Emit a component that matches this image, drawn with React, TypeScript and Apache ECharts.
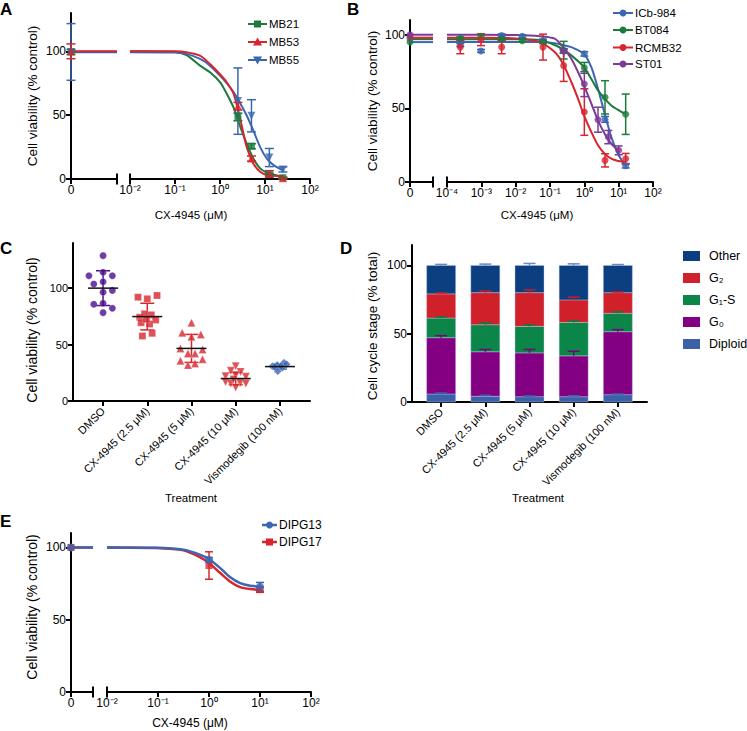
import React, { useEffect, useRef } from 'react';
import * as echarts from 'echarts';

const FONT = '"Liberation Sans", Arial, Helvetica, sans-serif';

// ---------- Panel A ----------
const A_CONC = [2.5, 5, 12.5, 25];
const A_CURVE_X = [0.01, 0.1, 0.18, 0.36, 0.6, 1, 1.41, 2, 2.75, 3.9, 5.5, 7.8, 11, 15.5, 25.7];
const A_MB21_CURVE = [100, 99.5, 97, 88.8, 83.6, 75.8, 66.8, 56, 42, 27.8, 16, 8.3, 5, 3.4, 1.8];
const A_MB53_CURVE = [100, 100, 99.3, 96.6, 90, 82, 75.8, 66.8, 48.6, 25.2, 12.2, 5.7, 3.1, 2.6, 2];
const A_MB55_CURVE = [99.3, 99, 98, 94, 88.8, 81, 75, 68, 60, 49.9, 38, 25, 16, 10.9, 6.5];
const A_MB21 = [48.6, 25.7, 3.5, 1.0];
const A_MB21_ERR = [3, 2, 1, 0.5];
const A_MB53 = [57, 16, 4, 0.5];
const A_MB53_ERR = [3, 2, 2.5, 0.5];
const A_MB55 = [61, 49.5, 16.8, 7.5];
const A_MB55_ERR = [26, 12.6, 7.1, 2];
const A_ZERO = [99.5, 100, 99.5];
const A_ZERO_ERR = [2, 5.8, 22.2];

// ---------- Panel B ----------
const B_CONC = [0.000244, 0.000977, 0.00391, 0.0156, 0.0625, 0.25, 1, 4, 16];
const B_ICB = [93, 89, 99.5, 99, 96, 89, 87, 42.5, 11];
const B_ICB_ERR = [1, 1, 1, 1, 1, 1.5, 1.5, 2, 1.5];
const B_BT = [97.5, 99, 97, 96, 95, 89.5, 77.5, 57.5, 46];
const B_BT_ERR = [1, 1, 1, 1, 1, 6, 3.7, 11.3, 13.7];
const B_RC_CONC = [0.000244, 0.000977, 0.00391, 0.0625, 0.25, 1, 4, 16];
const B_RC = [91.6, 96.6, 91.6, 91.6, 79, 47.5, 14.7, 15.8];
const B_RC_ERR = [4.5, 4, 4.5, 8.8, 10.7, 15.8, 4.5, 3.6];
const B_ST_CONC = [0.25, 1, 2.5, 5, 10];
const B_ST = [89, 66.5, 42.3, 30.5, 21.5];
const B_ST_ERR = [1.5, 8.5, 8.5, 4.5, 3];
const B_ZERO = [97.5, 95, 99, 100];
const B_FLAT = [95, 97, 98, 100];
const B_CURVE_X = [0.0001, 0.001, 0.01, 0.05, 0.137, 0.239, 0.418, 0.655, 0.977, 1.6, 2.5, 3.91, 6.11, 9.57, 15];
const B_ICB_CURVE = [95, 95, 95, 95, 94.3, 93, 91.6, 89.5, 87.1, 78, 63.3, 46.4, 30.5, 19.2, 11.3];
const B_BT_CURVE = [97, 97, 97, 96.5, 93, 90, 86, 82, 78, 70, 62.2, 56.6, 52, 49, 46.4];
const B_RC_CURVE = [98, 98, 97.5, 95, 88.2, 80.3, 67.9, 56.6, 45.2, 33.9, 24.9, 19.2, 15.8, 14.3, 13.6];
const B_ST_CURVE_X = [0.0001, 0.001, 0.01, 0.05, 0.137, 0.239, 0.418, 0.655, 0.977, 1.6, 2.5, 3.91, 6.11, 9.57];
const B_ST_CURVE = [100, 100, 99.8, 99, 97.3, 91.6, 83.7, 74.7, 65.6, 53.2, 41.9, 32.8, 26, 21.5];

// ---------- Panel C ----------
const C_CATS = ['DMSO', 'CX-4945 (2.5 μM)', 'CX-4945 (5 μM)', 'CX-4945 (10 μM)', 'Vismodegib (100 nM)'];
const C_DMSO = [128.8, 111, 111, 103.6, 105.6, 96.4, 98, 85.8, 86.6, 82.2, 78.3, 114];
const C_DMSO_JIT = [0, -0.32, 0.21, -0.21, 0, 0, 0.21, -0.21, 0, 0.21, 0, 0];
const C_CX25 = [92, 90.5, 93.5, 57.6, 60, 74.2, 77.2, 76.3, 71.8, 69.4, 68.2, 72.4];
const C_CX25_JIT = [-0.21, 0, 0.22, -0.11, 0.11, -0.17, -0.06, 0.09, 0.19, -0.14, 0.05, -0.02];
const C_CX5 = [69.4, 60.5, 59, 57, 46.6, 42, 42, 45.7, 35.6, 31.8, 33.2, 37];
const C_CX5_JIT = [0, -0.21, 0.21, 0, -0.25, -0.08, 0.08, 0.25, -0.25, -0.08, 0.08, 0.25];
const C_CX10 = [30.9, 26.7, 25.8, 22, 22.8, 21.4, 16.9, 15.4, 16, 15.4, 11.9, 19];
const C_CX10_JIT = [0, -0.11, 0.11, -0.23, 0, 0.23, -0.23, -0.11, 0.1, 0.23, 0, -0.05];
const C_VIS = [30.9, 31.8, 33.8, 32.6, 26.4, 29.4, 30.3, 30.9];
const C_VIS_JIT = [-0.17, -0.06, 0.09, 0.15, -0.05, 0.05, -0.12, 0.02];
const C_MEAN = [100, 74.8, 46.6, 19.9, 30.5];
const C_SD = [15.4, 11.8, 12.4, 5.5, 2.2];

// ---------- Panel D ----------
const D_DIPLOID = [5.9, 4.2, 3.9, 3.9, 5.4];
const D_G0 = [41.2, 32.6, 32.1, 29.9, 46.1];
const D_G1S = [14.4, 19.8, 19.4, 24.5, 13.5];
const D_G2 = [17.7, 23.5, 24.7, 16.5, 15.1];
const D_OTHER = [20.8, 19.9, 19.9, 25.2, 19.9];
const D_DIPLOID_ERR = [0.7, 0.7, 0.5, 0.7, 0.5];
const D_G0_ERR = [1.5, 1.7, 2.5, 3.4, 1.5];
const D_G1S_ERR = [0.8, 1.2, 1.2, 1.2, 1];
const D_G2_ERR = [0.8, 1.2, 2, 2, 0.5];
const D_OTHER_ERR = [0.8, 1, 1.5, 1.2, 0.7];

// ---------- Panel E ----------
const E_CONC = [1, 10];
const E_D13 = [91.5, 72.8];
const E_D13_ERR = [1.5, 3];
const E_D17 = [87.5, 70.8];
const E_D17_ERR = [9.5, 1.8];
const E_CURVE_X = [0.01, 0.093, 0.316, 0.66, 1, 1.66, 2.57, 4.07, 6.46, 10];
const E_D13_CURVE = [100, 99.8, 98.4, 95, 92, 85.7, 79.5, 75.3, 73.5, 73];
const E_D17_CURVE = [100, 99.6, 98, 93.3, 89.2, 82.3, 76.5, 72.6, 71.2, 70.7];

const Y_TICKS = [0, 50, 100];

const COL = {
  green: '#1d7a3c',
  red: '#d8242d',
  blue: '#3b67b2',
  purple: '#7b3a98',
  indigo: '#4b0c8c',
  dOther: '#0b3f80',
  dG2: '#d0202a',
  dG1: '#0b8648',
  dG0: '#820081',
  dDip: '#3b62a8',
};

const SUP: Record<string, string> = { '-': '⁻', '0': '⁰', '1': '¹', '2': '²', '3': '³', '4': '⁴', '5': '⁵' };
const pow10 = (v: number) => '10' + String(Math.round(Math.log10(v))).split('').map((c) => SUP[c] || c).join('');

const AXLINE = { show: true, onZero: false, lineStyle: { color: '#000', width: 2 } };
const TICK = { show: true, length: 5, lineStyle: { color: '#000', width: 2 } };
const lbl = (fs = 12) => ({ color: '#000', fontSize: fs, fontFamily: FONT });

function zeroX(grid: number) {
  return {
    type: 'value', gridIndex: grid, min: 0, max: 1,
    axisLine: AXLINE, axisTick: { ...TICK, customValues: [0] },
    axisLabel: { ...lbl(), customValues: [0], formatter: () => '0', margin: 5 },
    splitLine: { show: false },
  };
}
function logX(grid: number, min: number, split: number) {
  return {
    type: 'log', logBase: 10, gridIndex: grid, min, max: 100, splitNumber: split,
    axisLine: AXLINE, axisTick: TICK,
    axisLabel: { ...lbl(), formatter: pow10, margin: 5 },
    splitLine: { show: false }, minorTick: { show: false },
  };
}
function catX(grid: number, min: number, max: number, fs: number) {
  return {
    type: 'value', gridIndex: grid, min, max,
    axisLine: AXLINE, axisTick: { ...TICK, customValues: [0, 1, 2, 3, 4] },
    axisLabel: { ...lbl(fs), customValues: [0, 1, 2, 3, 4], rotate: 45, margin: 8, formatter: (v: number) => C_CATS[Math.round(v)] },
    splitLine: { show: false },
  };
}
function yAx(grid: number, max: number, show: boolean, fs = 12) {
  return {
    type: 'value', gridIndex: grid, min: 0, max, show,
    axisLine: AXLINE, axisTick: { ...TICK, customValues: Y_TICKS },
    axisLabel: { ...lbl(fs), customValues: Y_TICKS, margin: 5 },
    splitLine: { show: false },
  };
}

function errRender(color: string, cap: number, upOnly = false, lw = 1.5) {
  return (_p: any, api: any) => {
    const x = api.value(0), lo = api.value(1), hi = api.value(2);
    const a = api.coord([x, lo]);
    const b = api.coord([x, hi]);
    const st = { stroke: color, lineWidth: lw };
    const ch: any[] = [
      { type: 'line', shape: { x1: a[0], y1: a[1], x2: b[0], y2: b[1] }, style: st },
      { type: 'line', shape: { x1: b[0] - cap / 2, y1: b[1], x2: b[0] + cap / 2, y2: b[1] }, style: st },
    ];
    if (!upOnly) ch.push({ type: 'line', shape: { x1: a[0] - cap / 2, y1: a[1], x2: a[0] + cap / 2, y2: a[1] }, style: st });
    return { type: 'group', children: ch };
  };
}
function errSeries(ax: number, data: number[][], color: string, cap: number, upOnly = false, z = 3) {
  return {
    type: 'custom', xAxisIndex: ax, yAxisIndex: ax, data, encode: { x: 0, y: [1, 2] },
    renderItem: errRender(color, cap, upOnly), z, silent: true,
  };
}
function breakSeries(ax: number, xv: number) {
  return {
    type: 'custom', xAxisIndex: ax, yAxisIndex: ax, data: [[xv, 0]], encode: { x: 0, y: 1 }, z: 6, silent: true,
    renderItem: (_p: any, api: any) => {
      const p = api.coord([api.value(0), api.value(1)]);
      return { type: 'line', shape: { x1: p[0], y1: p[1] - 5.5, x2: p[0], y2: p[1] + 5.5 }, style: { stroke: '#000', lineWidth: 2 } };
    },
  };
}
function stackBarSeries(ax: number, data: number[][], color: string) {
  return {
    type: 'custom', xAxisIndex: ax, yAxisIndex: ax, data, encode: { x: 0, y: [1, 2] }, z: 2, silent: true,
    renderItem: (_p: any, api: any) => {
      const a = api.coord([api.value(0), api.value(1)]);
      const b = api.coord([api.value(0), api.value(2)]);
      return {
        type: 'rect',
        shape: { x: a[0] - 14.5, y: b[1], width: 29, height: a[1] - b[1] },
        style: { fill: color, stroke: 'rgba(190,200,230,0.6)', lineWidth: 0.7 },
      };
    },
  };
}
function lineSeries(ax: number, xs: number[], ys: number[], color: string, w = 2) {
  return {
    type: 'line', xAxisIndex: ax, yAxisIndex: ax, data: xs.map((x, i) => [x, ys[i]]),
    smooth: 0.25, showSymbol: false, symbol: 'none', lineStyle: { color, width: w }, itemStyle: { color }, z: 2, silent: true,
  };
}
function scatterSeries(ax: number, data: number[][], color: string, symbol: string, size: number, rotate = 0) {
  return {
    type: 'scatter', xAxisIndex: ax, yAxisIndex: ax, data, symbol, symbolSize: size, symbolRotate: rotate,
    itemStyle: { color }, z: 4, silent: true, clip: false,
  };
}
const zipErr = (xs: number[], v: number[], e: number[]) => xs.map((x, i) => [x, v[i] - e[i], v[i] + e[i]]);
const zip = (xs: number[], v: number[]) => xs.map((x, i) => [x, v[i]]);

function doseSet(ax0: number, ax1: number, o: any) {
  return [
    lineSeries(ax1, o.cx, o.curve, o.color, o.w || 2),
    lineSeries(ax0, [0, 1], [o.flat, o.flat], o.color, o.w || 2),
    ...(o.err ? [errSeries(ax1, zipErr(o.conc, o.pts, o.err), o.color, o.cap)] : []),
    ...(o.zeroErr ? [errSeries(ax0, [[0, o.zero - o.zeroErr, o.zero + o.zeroErr]], o.color, o.cap)] : []),
    scatterSeries(ax1, zip(o.conc, o.pts), o.color, o.symbol, o.size, o.rot || 0),
    scatterSeries(ax0, [[0, o.zero]], o.color, o.symbol, o.size, o.rot || 0),
  ];
}

function legendItem(x0: number, x1: number, y: number, color: string, sym: string, label: string, fs: number, w = 2) {
  const cx = (x0 + x1) / 2;
  let m: any;
  if (sym === 'rect') m = { type: 'rect', shape: { x: cx - 3.5, y: y - 3.5, width: 7, height: 7 }, style: { fill: color } };
  else if (sym === 'tri') m = { type: 'polygon', shape: { points: [[cx, y - 4.5], [cx + 4.5, y + 3.5], [cx - 4.5, y + 3.5]] }, style: { fill: color } };
  else if (sym === 'itri') m = { type: 'polygon', shape: { points: [[cx, y + 4.5], [cx + 4.5, y - 3.5], [cx - 4.5, y - 3.5]] }, style: { fill: color } };
  else m = { type: 'circle', shape: { cx, cy: y, r: 3.5 }, style: { fill: color } };
  return [
    { type: 'line', shape: { x1: x0, y1: y, x2: x1, y2: y }, style: { stroke: color, lineWidth: w } },
    m,
    { type: 'text', x: x1 + 2, y, style: { text: label, fill: '#000', fontSize: fs, fontFamily: FONT, verticalAlign: 'middle', align: 'left' } },
  ];
}
const txt = (x: number, y: number, s: string, fs: number) => ({
  type: 'text', x, y,
  style: { text: s, fill: '#000', fontSize: fs, fontFamily: FONT, align: 'center', verticalAlign: 'middle' },
});
const ytitle = (x: number, y: number, s: string, fs: number) => ({
  type: 'text', x, y, rotation: Math.PI / 2,
  style: { text: s, fill: '#000', fontSize: fs, fontFamily: FONT, align: 'center', verticalAlign: 'middle' },
});
const letter = (x: number, y: number, s: string) => ({
  type: 'text', x, y, style: { text: s, fill: '#000', fontSize: 17, fontWeight: 'bold', fontFamily: FONT, align: 'left', verticalAlign: 'middle' },
});

function buildOption() {
  const grids = [
    { left: 71, top: 13, width: 46, height: 166 },
    { left: 130, top: 13, width: 180, height: 166 },
    { left: 410, top: 20, width: 23, height: 162 },
    { left: 447, top: 20, width: 206, height: 162 },
    { left: 73, top: 243, width: 237, height: 158 },
    { left: 412, top: 245, width: 235, height: 157 },
    { left: 71, top: 533, width: 22, height: 159 },
    { left: 107, top: 533, width: 204, height: 159 },
  ];
  const xAxis = [
    zeroX(0), logX(1, 0.01, 4),
    zeroX(2), logX(3, 0.0001, 6),
    catX(4, -0.68, 4.68, 11), catX(5, -0.66, 4.66, 11),
    zeroX(6), logX(7, 0.01, 4),
  ];
  const yAxis = [
    yAx(0, 130, true), yAx(1, 130, false),
    yAx(2, 110, true), yAx(3, 110, false),
    yAx(4, 140, true, 11), yAx(5, 115, true),
    yAx(6, 110, true), yAx(7, 110, false),
  ];

  const series: any[] = [];
  // Panel A
  series.push(...doseSet(0, 1, { cx: A_CURVE_X, curve: A_MB21_CURVE, flat: 99.6, color: COL.green, conc: A_CONC, pts: A_MB21, err: A_MB21_ERR, zero: A_ZERO[0], zeroErr: A_ZERO_ERR[0], symbol: 'rect', size: 7, cap: 9 }));
  series.push(...doseSet(0, 1, { cx: A_CURVE_X, curve: A_MB55_CURVE, flat: 99.3, color: COL.blue, conc: A_CONC, pts: A_MB55, err: A_MB55_ERR, zero: A_ZERO[2], zeroErr: A_ZERO_ERR[2], symbol: 'triangle', size: 8, rot: 180, cap: 9 }));
  series.push(...doseSet(0, 1, { cx: A_CURVE_X, curve: A_MB53_CURVE, flat: 100, color: COL.red, conc: A_CONC, pts: A_MB53, err: A_MB53_ERR, zero: A_ZERO[1], zeroErr: A_ZERO_ERR[1], symbol: 'triangle', size: 8, cap: 9 }));
  series.push(breakSeries(0, 1), breakSeries(1, 0.01));

  // Panel B
  series.push(...doseSet(2, 3, { cx: B_CURVE_X, curve: B_ICB_CURVE, flat: B_FLAT[0], color: COL.blue, conc: B_CONC, pts: B_ICB, err: B_ICB_ERR, zero: B_ZERO[0], symbol: 'circle', size: 7, cap: 8 }));
  series.push(...doseSet(2, 3, { cx: B_CURVE_X, curve: B_BT_CURVE, flat: B_FLAT[1], color: COL.green, conc: B_CONC, pts: B_BT, err: B_BT_ERR, zero: B_ZERO[1], symbol: 'circle', size: 7, cap: 8 }));
  series.push(...doseSet(2, 3, { cx: B_CURVE_X, curve: B_RC_CURVE, flat: B_FLAT[2], color: COL.red, conc: B_RC_CONC, pts: B_RC, err: B_RC_ERR, zero: B_ZERO[2], symbol: 'circle', size: 7, cap: 8 }));
  series.push(...doseSet(2, 3, { cx: B_ST_CURVE_X, curve: B_ST_CURVE, flat: B_FLAT[3], color: COL.purple, conc: B_ST_CONC, pts: B_ST, err: B_ST_ERR, zero: B_ZERO[3], symbol: 'circle', size: 7, cap: 8 }));
  series.push(breakSeries(2, 1), breakSeries(3, 0.0001));

  // Panel C
  const cGroups = [
    { v: C_DMSO, j: C_DMSO_JIT, color: COL.indigo, sym: 'circle', size: 7, rot: 0 },
    { v: C_CX25, j: C_CX25_JIT, color: COL.red, sym: 'rect', size: 7, rot: 0 },
    { v: C_CX5, j: C_CX5_JIT, color: COL.red, sym: 'triangle', size: 8, rot: 0 },
    { v: C_CX10, j: C_CX10_JIT, color: COL.red, sym: 'triangle', size: 8, rot: 180 },
    { v: C_VIS, j: C_VIS_JIT, color: COL.blue, sym: 'diamond', size: 8, rot: 0 },
  ];
  cGroups.forEach((g, gi) => {
    series.push(errSeries(4, [[gi, C_MEAN[gi] - C_SD[gi], C_MEAN[gi] + C_SD[gi]]], g.color, 14));
    series.push({
      ...scatterSeries(4, g.v.map((v, i) => [gi + g.j[i], v]), g.color, g.sym, g.size, g.rot),
      itemStyle: { color: g.color, borderColor: 'rgba(255,255,255,0.6)', borderWidth: 0.5 },
    });
  });
  series.push({
    type: 'custom', xAxisIndex: 4, yAxisIndex: 4, data: C_MEAN.map((m, i) => [i, m]), encode: { x: 0, y: 1 }, z: 6, silent: true,
    renderItem: (_p: any, api: any) => {
      const p = api.coord([api.value(0), api.value(1)]);
      return { type: 'line', shape: { x1: p[0] - 15, y1: p[1], x2: p[0] + 15, y2: p[1] }, style: { stroke: '#111', lineWidth: 1.5 } };
    },
  });

  // Panel D
  const dSegs = [
    { v: D_DIPLOID, e: D_DIPLOID_ERR, color: COL.dDip, ec: COL.dDip },
    { v: D_G0, e: D_G0_ERR, color: COL.dG0, ec: '#6d0a74' },
    { v: D_G1S, e: D_G1S_ERR, color: COL.dG1, ec: '#0b7a40' },
    { v: D_G2, e: D_G2_ERR, color: COL.dG2, ec: '#c41c28' },
    { v: D_OTHER, e: D_OTHER_ERR, color: COL.dOther, ec: '#6a8ac0' },
  ];
  const cum = [0, 0, 0, 0, 0];
  dSegs.forEach((s) => {
    const barData = s.v.map((v, i) => {
      const lo = cum[i];
      cum[i] += v;
      return [i, lo, cum[i]];
    });
    series.push(stackBarSeries(5, barData, s.color));
    series.push(errSeries(5, barData.map((d, i) => [i, d[2], d[2] + s.e[i]]), s.ec, 12, true, 4));
  });

  // Panel E
  series.push(...doseSet(6, 7, { cx: E_CURVE_X, curve: E_D17_CURVE, flat: 100, color: COL.red, conc: E_CONC, pts: E_D17, err: E_D17_ERR, zero: 100, symbol: 'rect', size: 7, cap: 8, w: 2.5 }));
  series.push(...doseSet(6, 7, { cx: E_CURVE_X, curve: E_D13_CURVE, flat: 100, color: COL.blue, conc: E_CONC, pts: E_D13, err: E_D13_ERR, zero: 100, symbol: 'circle', size: 8, cap: 8, w: 2.5 }));
  series.push(breakSeries(6, 1), breakSeries(7, 0.01));

  const graphics: any[] = [
    letter(0, 9, 'A'), letter(347, 9, 'B'), letter(0, 248, 'C'), letter(340, 248, 'D'), letter(0, 521, 'E'),
    ytitle(32, 96, 'Cell viability (% control)', 13.5),
    ytitle(372, 101, 'Cell viability (% control)', 13.5),
    ytitle(32, 330, 'Cell viability (% control)', 14),
    ytitle(372, 326, 'Cell cycle stage (% total)', 13.5),
    ytitle(32, 607, 'Cell viability (% control)', 14),
    txt(191, 215, 'CX-4945 (μM)', 11.5),
    txt(537, 215, 'CX-4945 (μM)', 11.5),
    txt(191, 498, 'Treatment', 11.5),
    txt(538, 498, 'Treatment', 11.5),
    txt(190, 723, 'CX-4945 (μM)', 12),
    ...legendItem(248, 267, 24, COL.green, 'rect', 'MB21', 11.5),
    ...legendItem(248, 267, 42, COL.red, 'tri', 'MB53', 11.5),
    ...legendItem(248, 267, 60, COL.blue, 'itri', 'MB55', 11.5),
    ...legendItem(613, 633, 13, COL.blue, 'circle', 'ICb-984', 11.5),
    ...legendItem(613, 633, 30, COL.green, 'circle', 'BT084', 11.5),
    ...legendItem(613, 633, 47.5, COL.red, 'circle', 'RCMB32', 11.5),
    ...legendItem(613, 633, 64, COL.purple, 'circle', 'ST01', 11.5),
    ...legendItem(262, 277, 525, COL.blue, 'circle', 'DIPG13', 12, 2.5),
    ...legendItem(262, 277, 542, COL.red, 'rect', 'DIPG17', 12, 2.5),
  ];
  const dLeg = [
    { n: 'Other', c: COL.dOther, y: 256 },
    { n: 'G₂', c: COL.dG2, y: 278 },
    { n: 'G₁-S', c: COL.dG1, y: 300 },
    { n: 'G₀', c: COL.dG0, y: 322 },
    { n: 'Diploid', c: COL.dDip, y: 344 },
  ];
  dLeg.forEach((d) => {
    graphics.push({ type: 'rect', shape: { x: 683, y: d.y - 5, width: 17, height: 10 }, style: { fill: d.c } });
    graphics.push({ type: 'text', x: 709, y: d.y, style: { text: d.n, fill: '#000', fontSize: 12.5, fontFamily: FONT, verticalAlign: 'middle', align: 'left' } });
  });

  return {
    animation: false,
    backgroundColor: '#fff',
    textStyle: { fontFamily: FONT },
    grid: grids,
    xAxis,
    yAxis,
    series,
    graphic: { elements: graphics },
  };
}

export default function App() {
  const ref = useRef<HTMLDivElement>(null);
  useEffect(() => {
    if (!ref.current) return;
    const chart = echarts.init(ref.current, undefined, { renderer: 'svg' });
    chart.setOption(buildOption() as any);
    return () => chart.dispose();
  }, []);
  return <div ref={ref} style={{ position: 'fixed', left: 0, top: 0, width: 747, height: 731, background: '#fff' }} />;
}
